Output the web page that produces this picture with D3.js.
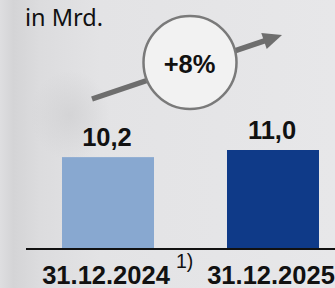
<!DOCTYPE html>
<html lang="de">
<head>
    <meta charset="UTF-8">
    <title>Volumen in Mrd.</title>
    <style>
        body { margin: 0; background: #e4e4e6; }
        svg { display: block; }
        .lbl { font-family: "Liberation Sans", Arial, sans-serif; font-weight: bold; fill: #111; }
    </style>
</head>
<body>
    <svg id="chart" width="335" height="288"></svg>

    <script src="https://d3js.org/d3.v7.min.js"></script>
    <script>
        // data
        const categories = ["31.12.2024", "31.12.2025"];
        const values = [10.2, 11.0];
        const valueLabels = ["10,2", "11,0"];
        const footnotes = ["1)", ""];
        const barColors = ["#88a8d0", "#0f3a88"];
        const unitLabel = "in Mrd.";
        const growthLabel = "+8%";

        const width = 335, height = 288;
        const svg = d3.select("#chart");

        // background with soft grey shading on the left
        const defs = svg.append("defs");
        const bg = defs.append("linearGradient").attr("id", "bg");
        [["0%", "#dedee0"], ["4%", "#d4d4d6"], ["12%", "#dcdcde"], ["30%", "#e3e3e5"], ["100%", "#e7e7e9"]]
            .forEach(s => bg.append("stop").attr("offset", s[0]).attr("stop-color", s[1]));
        const blob = defs.append("radialGradient").attr("id", "blob");
        blob.append("stop").attr("offset", "0%").attr("stop-color", "#cfcfd1").attr("stop-opacity", 0.7);
        blob.append("stop").attr("offset", "100%").attr("stop-color", "#cfcfd1").attr("stop-opacity", 0);

        svg.append("rect").attr("width", width).attr("height", height).attr("fill", "url(#bg)");
        svg.append("ellipse").attr("cx", 70).attr("cy", 115).attr("rx", 40).attr("ry", 45).attr("fill", "url(#blob)");

        // scales
        const x = d3.scaleBand()
            .domain(categories)
            .range([25.5, 355.5])
            .paddingInner(0.4424)
            .paddingOuter(0.2212);
        const y = d3.scaleLinear().domain([0, 11]).range([248, 150]);

        // unit label
        svg.append("text")
            .attr("x", 25).attr("y", 26)
            .attr("font-family", "'Noto Sans', 'Open Sans', sans-serif")
            .attr("font-size", 23.5)
            .attr("fill", "#111")
            .text(unitLabel);

        // bars
        svg.selectAll("rect.bar")
            .data(values)
            .join("rect")
            .attr("class", "bar")
            .attr("x", (d, i) => x(categories[i]))
            .attr("y", d => y(d))
            .attr("width", x.bandwidth())
            .attr("height", d => y(0) - y(d))
            .attr("fill", (d, i) => barColors[i]);

        // value labels
        svg.selectAll("text.val")
            .data(values)
            .join("text")
            .attr("class", "lbl val")
            .attr("x", (d, i) => x(categories[i]) + x.bandwidth() / 2 - 1)
            .attr("y", d => y(d) - 11.5)
            .attr("text-anchor", "middle")
            .attr("font-size", 25.5)
            .text((d, i) => valueLabels[i]);

        // baseline
        svg.append("line")
            .attr("x1", 26).attr("x2", width)
            .attr("y1", y(0) + 1).attr("y2", y(0) + 1)
            .attr("stroke", "#111").attr("stroke-width", 2);

        // category labels
        svg.selectAll("text.cat")
            .data(categories)
            .join("text")
            .attr("class", "lbl cat")
            .attr("x", d => x(d) + x.bandwidth() / 2 - 2)
            .attr("y", 284)
            .attr("text-anchor", "middle")
            .attr("font-size", 25.5)
            .text(d => d);

        svg.selectAll("text.foot")
            .data(footnotes)
            .join("text")
            .attr("class", "foot")
            .attr("x", (d, i) => x(categories[i]) + x.bandwidth() / 2 + 68)
            .attr("y", 268)
            .attr("font-family", "'Liberation Sans', Arial, sans-serif")
            .attr("font-size", 19.5)
            .attr("fill", "#111")
            .text(d => d);

        // growth arrow
        const ax1 = 92, ay1 = 99, ax2 = 282, ay2 = 35;
        const ang = Math.atan2(ay2 - ay1, ax2 - ax1);
        const headLen = 19, headW = 8.5;
        const bx = ax2 - headLen * Math.cos(ang), by = ay2 - headLen * Math.sin(ang);
        svg.append("line")
            .attr("x1", ax1).attr("y1", ay1)
            .attr("x2", bx + 2 * Math.cos(ang)).attr("y2", by + 2 * Math.sin(ang))
            .attr("stroke", "#6e6e6e").attr("stroke-width", 5.5);
        svg.append("polygon")
            .attr("points", [
                [ax2, ay2],
                [bx - headW * Math.sin(ang), by + headW * Math.cos(ang)],
                [bx + headW * Math.sin(ang), by - headW * Math.cos(ang)]
            ].map(p => p.join(",")).join(" "))
            .attr("fill", "#6e6e6e");

        // growth circle
        svg.append("circle")
            .attr("cx", 190).attr("cy", 62.5).attr("r", 46.5)
            .attr("fill", "#f2f2f2")
            .attr("stroke", "#7a7a7a").attr("stroke-width", 2.5);
        svg.append("text")
            .attr("class", "lbl")
            .attr("x", 189.5).attr("y", 73)
            .attr("text-anchor", "middle")
            .attr("font-size", 25.5)
            .text(growthLabel);
    </script>
</body>
</html>
